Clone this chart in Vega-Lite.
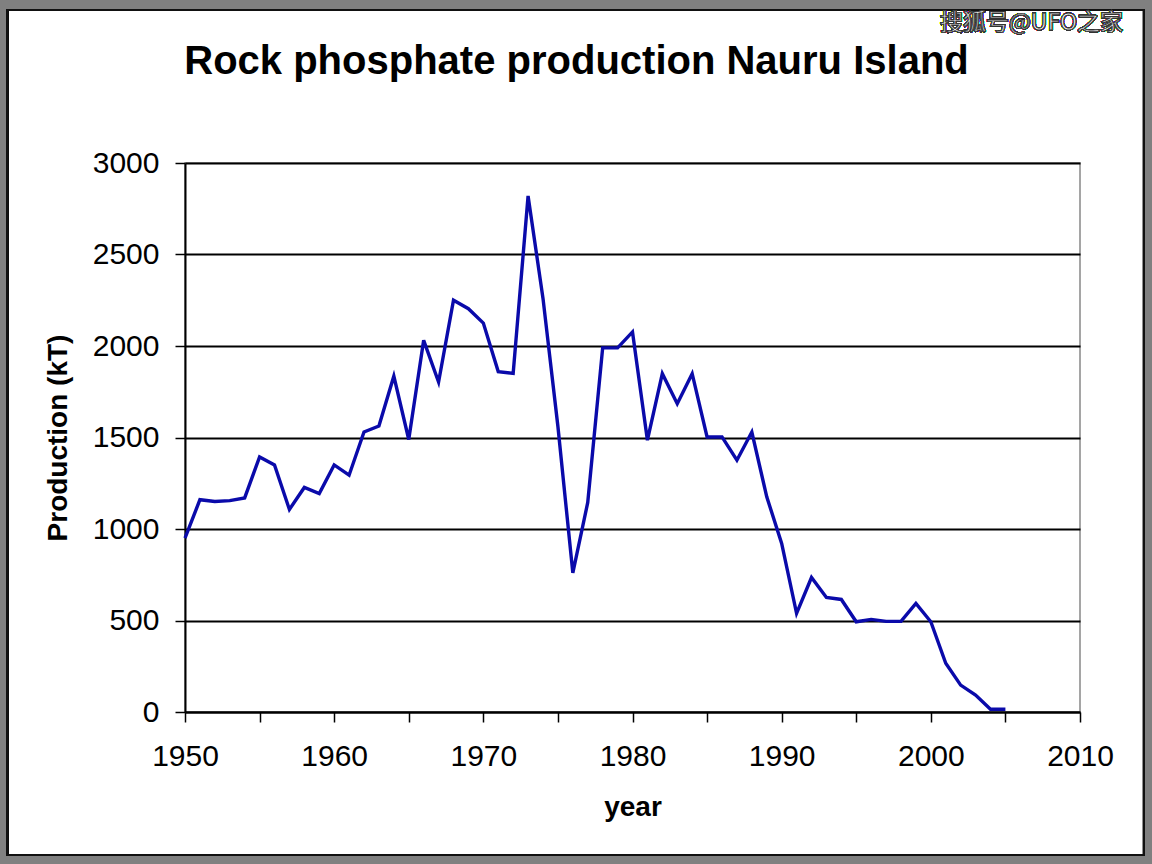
{
  "$schema": "https://vega.github.io/schema/vega-lite/v6.json",
  "autosize": {"type": "none"},
  "width": 895,
  "height": 549,
  "padding": {"left": 185, "top": 163, "right": 72, "bottom": 152},
  "background": "#ffffff",
  "config": {
    "view": {"stroke": "#888888", "strokeWidth": 1.5},
    "font": "Liberation Sans"
  },
  "title": {
    "text": "Rock phosphate production Nauru Island",
    "font": "Liberation Sans",
    "fontSize": 40,
    "fontWeight": "bold",
    "color": "#000000",
    "anchor": "middle",
    "dx": -56,
    "baseline": "alphabetic",
    "offset": -122
  },
  "data": {
    "values": [
      {"year": 1950, "production": 950},
      {"year": 1951, "production": 1160},
      {"year": 1952, "production": 1150},
      {"year": 1953, "production": 1155},
      {"year": 1954, "production": 1170},
      {"year": 1955, "production": 1394},
      {"year": 1956, "production": 1350},
      {"year": 1957, "production": 1107},
      {"year": 1958, "production": 1227},
      {"year": 1959, "production": 1194},
      {"year": 1960, "production": 1350},
      {"year": 1961, "production": 1294},
      {"year": 1962, "production": 1530},
      {"year": 1963, "production": 1563},
      {"year": 1964, "production": 1835},
      {"year": 1965, "production": 1489},
      {"year": 1966, "production": 2031},
      {"year": 1967, "production": 1803},
      {"year": 1968, "production": 2250},
      {"year": 1969, "production": 2204},
      {"year": 1970, "production": 2125},
      {"year": 1971, "production": 1860},
      {"year": 1972, "production": 1850},
      {"year": 1973, "production": 2820},
      {"year": 1974, "production": 2260},
      {"year": 1975, "production": 1560},
      {"year": 1976, "production": 760},
      {"year": 1977, "production": 1145},
      {"year": 1978, "production": 1990},
      {"year": 1979, "production": 1990},
      {"year": 1980, "production": 2077},
      {"year": 1981, "production": 1485},
      {"year": 1982, "production": 1849},
      {"year": 1983, "production": 1685},
      {"year": 1984, "production": 1849},
      {"year": 1985, "production": 1503},
      {"year": 1986, "production": 1503},
      {"year": 1987, "production": 1376},
      {"year": 1988, "production": 1530},
      {"year": 1989, "production": 1176},
      {"year": 1990, "production": 921},
      {"year": 1991, "production": 539},
      {"year": 1992, "production": 735},
      {"year": 1993, "production": 626},
      {"year": 1994, "production": 615},
      {"year": 1995, "production": 493},
      {"year": 1996, "production": 506},
      {"year": 1997, "production": 495},
      {"year": 1998, "production": 495},
      {"year": 1999, "production": 593},
      {"year": 2000, "production": 493},
      {"year": 2001, "production": 266},
      {"year": 2002, "production": 147},
      {"year": 2003, "production": 93},
      {"year": 2004, "production": 15},
      {"year": 2005, "production": 15}
    ]
  },
  "layer": [
    {
      "mark": {"type": "line", "color": "#0a0aaa", "strokeWidth": 3.4, "clip": false},
      "encoding": {
        "x": {
          "field": "year",
          "type": "quantitative",
          "scale": {"domain": [1950, 2010], "nice": false, "zero": false},
          "axis": {
            "values": [1950, 1955, 1960, 1965, 1970, 1975, 1980, 1985, 1990, 1995, 2000, 2005, 2010],
            "format": "d",
            "labelExpr": "datum.value % 10 === 0 ? datum.label : ''",
            "labelFlush": false,
            "grid": false,
            "domainColor": "#000000",
            "domainWidth": 2,
            "tickColor": "#000000",
            "tickWidth": 1.5,
            "tickSize": 10,
            "labelFont": "Liberation Sans",
            "labelFontSize": 30,
            "labelColor": "#000000",
            "labelPadding": 19,
            "labelOverlap": false,
            "title": "year",
            "titleFont": "Liberation Sans",
            "titleFontSize": 28,
            "titleFontWeight": "bold",
            "titleColor": "#000000",
            "titlePadding": 22
          }
        },
        "y": {
          "field": "production",
          "type": "quantitative",
          "scale": {"domain": [0, 3000], "nice": false},
          "axis": {
            "values": [0, 500, 1000, 1500, 2000, 2500, 3000],
            "format": "d",
            "labelFlush": false,
            "grid": true,
            "gridColor": "#000000",
            "gridWidth": 1.8,
            "domainColor": "#000000",
            "domainWidth": 2,
            "tickColor": "#000000",
            "tickWidth": 1.5,
            "tickSize": 10,
            "labelFont": "Liberation Sans",
            "labelFontSize": 30,
            "labelColor": "#000000",
            "labelPadding": 16,
            "title": "Production (kT)",
            "titleFont": "Liberation Sans",
            "titleFontSize": 28,
            "titleFontWeight": "bold",
            "titleColor": "#000000",
            "titlePadding": 20
          }
        }
      }
    },
    {
      "mark": {"type": "rect", "fill": null, "fillOpacity": 0, "stroke": "#808080", "strokeWidth": 18, "clip": false},
      "encoding": {
        "x": {"datum": 1937.464, "type": "quantitative", "scale": {"domain": [1950, 2010], "nice": false, "zero": false}},
        "x2": {"datum": 2014.96},
        "y": {"datum": 3885.2, "type": "quantitative", "scale": {"domain": [0, 3000], "nice": false}},
        "y2": {"datum": -830.6}
      }
    },
    {
      "mark": {"type": "rect", "fill": null, "fillOpacity": 0, "stroke": "#111111", "strokeWidth": 2, "clip": false},
      "encoding": {
        "x": {"datum": 1938.07, "type": "quantitative", "scale": {"domain": [1950, 2010], "nice": false, "zero": false}},
        "x2": {"datum": 2014.29},
        "y": {"datum": 3836, "type": "quantitative", "scale": {"domain": [0, 3000], "nice": false}},
        "y2": {"datum": -781}
      }
    },
    {
      "mark": {"type": "text", "text": "搜狐号@UFO之家", "font": "Noto Sans CJK SC", "fontSize": 23, "align": "right", "baseline": "middle", "fill": "#ffffff", "stroke": "#333333", "strokeWidth": 0.9, "clip": false},
      "encoding": {
        "x": {"datum": 2012.88, "type": "quantitative", "scale": {"domain": [1950, 2010], "nice": false, "zero": false}},
        "y": {"datum": 3765, "type": "quantitative", "scale": {"domain": [0, 3000], "nice": false}}
      }
    }
  ]
}
